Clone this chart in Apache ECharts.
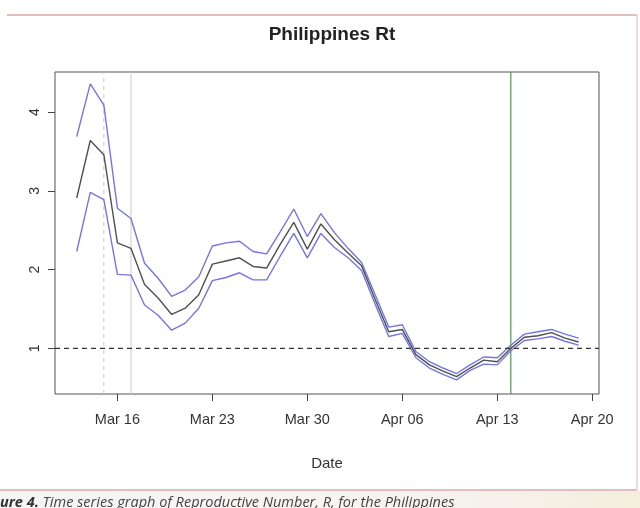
<!DOCTYPE html>
<html>
<head>
<meta charset="utf-8">
<script src="https://cdn.jsdelivr.net/npm/echarts@6/dist/echarts.min.js"></script>
<style>
html,body{margin:0;padding:0;background:#fff;}
#chart{width:640px;height:508px;}
</style>
</head>
<body>
<div id="chart"></div>
<script>
// ---- data ----
const dates = ['2020-03-13','2020-03-14','2020-03-15','2020-03-16','2020-03-17','2020-03-18','2020-03-19','2020-03-20',
  '2020-03-21','2020-03-22','2020-03-23','2020-03-24','2020-03-25','2020-03-26','2020-03-27','2020-03-28',
  '2020-03-29','2020-03-30','2020-03-31','2020-04-01','2020-04-02','2020-04-03','2020-04-04','2020-04-05',
  '2020-04-06','2020-04-07','2020-04-08','2020-04-09','2020-04-10','2020-04-11','2020-04-12','2020-04-13',
  '2020-04-14','2020-04-15','2020-04-16','2020-04-17','2020-04-18','2020-04-19'];
const rtMean = [2.91,3.64,3.46,2.34,2.27,1.81,1.64,1.43,1.51,1.68,2.07,2.11,2.15,2.04,2.02,2.32,
  2.60,2.26,2.58,2.38,2.21,2.05,1.62,1.21,1.24,0.92,0.79,0.71,0.64,0.75,0.85,0.83,
  1.00,1.14,1.16,1.20,1.13,1.08];
const rtUpper = [3.69,4.36,4.09,2.78,2.65,2.08,1.89,1.66,1.74,1.91,2.30,2.34,2.36,2.23,2.20,2.48,
  2.77,2.42,2.71,2.47,2.27,2.09,1.68,1.27,1.30,0.96,0.83,0.75,0.68,0.79,0.89,0.88,
  1.04,1.18,1.21,1.24,1.18,1.13];
const rtLower = [2.23,2.98,2.89,1.94,1.93,1.55,1.42,1.23,1.32,1.51,1.86,1.90,1.96,1.87,1.87,2.17,
  2.46,2.15,2.46,2.28,2.15,1.99,1.56,1.15,1.19,0.88,0.75,0.67,0.60,0.72,0.80,0.79,
  0.97,1.10,1.12,1.15,1.09,1.04];
const xTickDates = ['2020-03-16','2020-03-23','2020-03-30','2020-04-06','2020-04-13','2020-04-20'];
const xTickLabels = ['Mar 16','Mar 23','Mar 30','Apr 06','Apr 13','Apr 20'];
const yTicks = [1,2,3,4];
const refLineY = 1;
const vDashedDate = '2020-03-15';
const vGrayDate = '2020-03-17';
const vGreenDate = '2020-04-14';

// ---- helpers ----
const base = Date.UTC(2020,2,16);
function dayOf(s){const p=s.split('-').map(Number);return (Date.UTC(p[0],p[1]-1,p[2])-base)/864e5;}
const xs = dates.map(dayOf);
const xTickVals = xTickDates.map(dayOf);
const labelMap = {};
xTickVals.forEach((v,i)=>{labelMap[v]=xTickLabels[i];});
const pairs = arr => arr.map((v,i)=>[xs[i],v]);
const X_MIN = -4.6, X_MAX = 35.5, Y_MIN = 0.42, Y_MAX = 4.51;
function vLine(dateStr, style){
  const x = dayOf(dateStr);
  return {type:'line',data:[[x,Y_MIN],[x,Y_MAX]],symbol:'none',silent:true,z:2,
    lineStyle:style,itemStyle:{color:style.color}};
}

const chart = echarts.init(document.getElementById('chart'));
const font = 'Liberation Sans, Arial, Helvetica, sans-serif';
chart.setOption({
  animation:false,
  backgroundColor:'#fff',
  title:{text:'Philippines Rt',left:327,top:20,textAlign:'center',
    textStyle:{fontFamily:font,fontSize:19,fontWeight:'bold',color:'#222'}},
  grid:{left:55,right:41,top:72,bottom:114,show:true,borderColor:'#555',borderWidth:1,
    backgroundColor:'transparent',containLabel:false,outerBoundsMode:'none'},
  xAxis:{type:'value',min:X_MIN,max:X_MAX,
    name:'Date',nameLocation:'middle',nameGap:62,
    nameTextStyle:{fontFamily:font,fontSize:15,color:'#333'},
    axisLine:{show:false,onZero:false},
    splitLine:{show:false},
    axisTick:{show:true,inside:false,length:7,customValues:xTickVals,lineStyle:{color:'#444'}},
    axisLabel:{customValues:xTickVals,margin:18,fontFamily:font,fontSize:14.5,color:'#333',
      formatter:v=>labelMap[v]!==undefined?labelMap[v]:''}
  },
  yAxis:{type:'value',min:Y_MIN,max:Y_MAX,
    axisLine:{show:false,onZero:false},
    splitLine:{show:false},
    axisTick:{show:true,inside:false,length:7,customValues:yTicks,lineStyle:{color:'#444'}},
    axisLabel:{customValues:yTicks,rotate:90,margin:13,fontFamily:font,fontSize:14,color:'#333'}
  },
  series:[
    vLine(vDashedDate,{color:'#c8c8c8',type:[4,4],width:1}),
    vLine(vGrayDate,{color:'#cccccc',type:'solid',width:1}),
    vLine(vGreenDate,{color:'#4f9a4f',type:'solid',width:1.2}),
    {type:'line',data:pairs(rtUpper),symbol:'none',lineStyle:{color:'#7474e8',width:1.4},itemStyle:{color:'#7474e8'},z:3},
    {type:'line',data:pairs(rtLower),symbol:'none',lineStyle:{color:'#7474e8',width:1.4},itemStyle:{color:'#7474e8'},z:3},
    {type:'line',data:pairs(rtMean),symbol:'none',lineStyle:{color:'#505050',width:1.4},itemStyle:{color:'#505050'},z:4},
    {type:'line',data:[[X_MIN,refLineY],[X_MAX,refLineY]],symbol:'none',silent:true,z:5,
      lineStyle:{color:'#333',type:[5,4],width:1.4},itemStyle:{color:'#333'}}
  ],
  graphic:[
    {type:'rect',shape:{x:0,y:491,width:640,height:17},silent:true,z:-1,
      style:{fill:new echarts.graphic.LinearGradient(0,0,1,0,[
        {offset:0,color:'#f5f5f5'},{offset:0.6,color:'#f7f3f3'},{offset:1,color:'#f4eedd'}])}},
    {type:'line',shape:{x1:7,y1:15,x2:637,y2:15},style:{stroke:'#d8a8a8',lineWidth:1.5},silent:true},
    {type:'line',shape:{x1:637,y1:15,x2:637,y2:490},style:{stroke:'#e2c4c4',lineWidth:1.2},silent:true},
    {type:'line',shape:{x1:0,y1:490,x2:637,y2:490},style:{stroke:'#d8a8a8',lineWidth:1.5},silent:true},
    {type:'text',left:0,top:495,silent:true,
      style:{text:'{b|ure 4.} Time series graph of Reproductive Number, R, for the Philippines',
        rich:{b:{fontWeight:'bold',fontStyle:'italic',fontSize:14.5,fontFamily:'Open Sans, sans-serif',fill:'#333'}},
        fontStyle:'italic',fontSize:14.5,fontFamily:'Open Sans, sans-serif',fill:'#444'}}
  ]
});
</script>
</body>
</html>
